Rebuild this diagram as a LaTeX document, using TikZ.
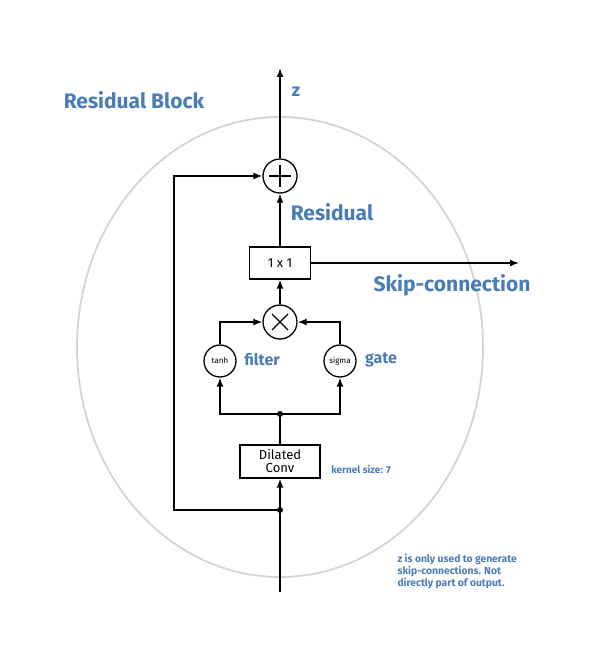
\documentclass[tikz,border=0pt]{standalone}
\usepackage{fontspec}
\setmainfont{Fira Sans}
\usetikzlibrary{arrows.meta,calc}
\definecolor{lblue}{HTML}{4A7DB5}
\definecolor{egray}{HTML}{D4D4D4}
\begin{document}
\begin{tikzpicture}[x=1pt,y=-1pt,
  wire/.style={line width=1.6pt,draw=black},
  arr/.style={wire,-{Latex[length=9pt,width=7pt]}},
  opnode/.style={circle,draw=black,line width=1.3pt,minimum size=34pt,inner sep=0pt},
  actnode/.style={circle,draw=black,line width=1.3pt,minimum size=32pt,inner sep=0pt,font=\fontsize{8}{9}\selectfont},
  boxnode/.style={draw=black,line width=1.3pt,inner sep=0pt,font=\fontsize{13}{14}\selectfont,align=center},
  dotnode/.style={circle,fill=black,minimum size=6pt,inner sep=0pt},
  biglbl/.style={text=lblue,font=\fontsize{21}{23}\selectfont\bfseries},
  midlbl/.style={text=lblue,font=\fontsize{16}{18}\selectfont\bfseries},
  smalllbl/.style={text=lblue,font=\fontsize{10}{12}\selectfont\bfseries,align=left}
]
\useasboundingbox (0,0) rectangle (608,652);
\draw[egray,line width=1.8pt] (280,347) ellipse [x radius=203, y radius=230];

\coordinate (in) at (280,592);
\coordinate (out) at (280,68);
\node[dotnode] (d1) at (280,510) {};
\node[dotnode] (d2) at (280,414) {};
\node[boxnode,minimum width=80pt,minimum height=33pt] (conv) at (280,461.5) {Dilated\\[-1pt]Conv};
\node[actnode] (tanh) at (220,361) {tanh};
\node[actnode] (sigma) at (340,361) {sigma};
\node[opnode] (times) at (280,322) {};
\draw[line width=1.3pt] ($(times.center)+(-8,-8)$) -- ++(16,16) ($(times.center)+(8,-8)$) -- ++(-16,16);
\node[boxnode,minimum width=61pt,minimum height=32pt] (one) at (280,263) {1 x 1};
\node[opnode] (plus) at (280,176) {};
\draw[line width=1.3pt] ($(plus.center)+(-11,0)$) -- ++(22,0) ($(plus.center)+(0,-11)$) -- ++(0,22);
\coordinate (skipend) at (519,263);
\coordinate (lc) at (174,510);

\draw[wire] (in) -- (d1);
\draw[arr] (d1) -- (conv.south);
\draw[arr] (d1.center) -- (lc) |- (plus.west);
\draw[wire] (conv.north) -- (d2.center);
\draw[arr] (d2.center) -| (tanh.south);
\draw[arr] (d2.center) -| (sigma.south);
\draw[arr] (tanh.north) |- (times.west);
\draw[arr] (sigma.north) |- (times.east);
\draw[arr] (times.north) -- (one.south);
\draw[arr] (one.east) -- (skipend);
\draw[arr] (one.north) -- (plus.south);
\draw[arr] (plus.north) -- (out);

\node[biglbl] at (134,100) {Residual Block};
\node[midlbl,font=\fontsize{18}{20}\selectfont\bfseries] at (296,92) {z};
\node[biglbl] at (332,212) {Residual};
\node[biglbl] at (452,285) {Skip-connection};
\node[midlbl] at (262,360) {filter};
\node[midlbl] at (381,360) {gate};
\node[smalllbl] at (361,470) {kernel size: 7};
\node[smalllbl,anchor=north west,font=\fontsize{10.3}{12}\selectfont\bfseries] at (394,551) {z is only used to generate\\skip-connections. Not\\directly part of output.};
\end{tikzpicture}
\end{document}
